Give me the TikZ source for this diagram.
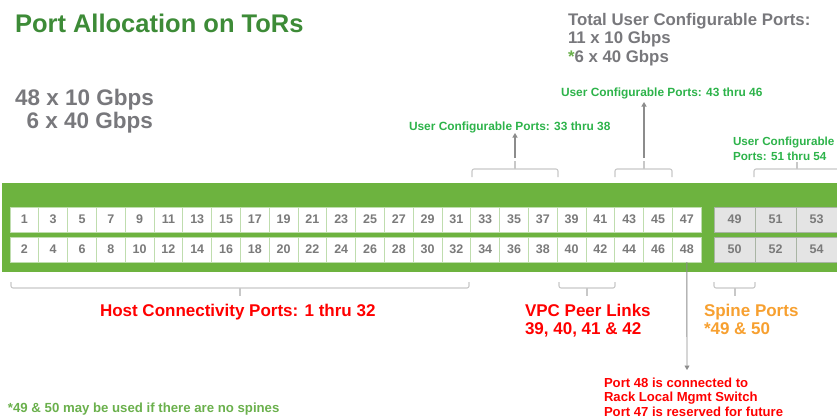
\documentclass[tikz,border=0pt]{standalone}
\usepackage{fontspec}
\setmainfont{Liberation Sans}
\usetikzlibrary{arrows.meta}
\definecolor{band}{HTML}{6DB33F}
\definecolor{titlegreen}{HTML}{3D8B37}
\definecolor{labgreen}{HTML}{2DB34A}
\definecolor{footgreen}{HTML}{6AB04C}
\definecolor{numgrey}{HTML}{7A7A7A}
\definecolor{biggrey}{HTML}{78787C}
\definecolor{cellline}{HTML}{BFDDAE}
\definecolor{greycell}{HTML}{E4E4E4}
\definecolor{greyline}{HTML}{A9B5A4}
\definecolor{brk}{HTML}{C8C8C8}
\definecolor{arrowgrey}{HTML}{8C8C8C}
\definecolor{redtxt}{HTML}{FF0000}
\definecolor{orangetxt}{HTML}{F7A030}
\begin{document}
\begin{tikzpicture}[x=1pt,y=-1pt,
  cell/.style={draw=cellline,fill=white,line width=0.8pt,minimum width=28.8pt,minimum height=25pt,
    inner sep=0pt,outer sep=0pt,font=\fontsize{12.5}{13}\selectfont\bfseries,text=numgrey},
  gcell/.style={cell,draw=greyline,fill=greycell,minimum width=41pt},
  txt/.style={inner sep=0pt,outer sep=0pt,anchor=base west},
  bracketline/.style={draw=brk,line width=1.1pt,rounded corners=2pt},
  uparrow/.style={draw=arrowgrey,line width=1.1pt,-{Triangle[width=5pt,length=4.5pt]}}
]
\useasboundingbox (0,0) rectangle (837,418);
% title and totals
\node[txt,font=\fontsize{25.5}{30}\selectfont\bfseries,text=titlegreen] (title) at (15,32) {Port Allocation on ToRs};
\node[txt,font=\fontsize{22.5}{26}\selectfont\bfseries,text=biggrey] (tot10) at (15,105) {48 x 10 Gbps};
\node[inner sep=0pt,outer sep=0pt,anchor=base east,font=\fontsize{22.5}{26}\selectfont\bfseries,text=biggrey] (tot40) at (153,128) {6 x 40 Gbps};
\node[txt,font=\fontsize{16.8}{19}\selectfont\bfseries,text=biggrey] (uc1) at (568,25) {Total User Configurable Ports:};
\node[txt,font=\fontsize{16.8}{19}\selectfont\bfseries,text=biggrey] (uc2) at (568,43.5) {11 x 10 Gbps};
\node[txt,font=\fontsize{16.8}{19}\selectfont\bfseries,text=biggrey] (uc3) at (568,62) {\textcolor{footgreen}{*}6 x 40 Gbps};
% band
\node[fill=band,minimum width=835pt,minimum height=89pt,anchor=north west,inner sep=0pt,outer sep=0pt] (band) at (2,183) {};
% ports
\foreach \i in {0,...,23} {
  \pgfmathtruncatemacro\t{2*\i+1}
  \pgfmathtruncatemacro\b{2*\i+2}
  \node[cell] (p\t) at ({24.4+28.8*\i},219.5) {\t};
  \node[cell] (p\b) at ({24.4+28.8*\i},249.5) {\b};
}
\foreach \t/\b/\xx in {49/50/734.5,51/52/775.5,53/54/816.5} {
  \node[gcell] (p\t) at (\xx,219.5) {\t};
  \node[gcell] (p\b) at (\xx,249.5) {\b};
}
% upper brackets
\coordinate (ua1) at (515,161);
\coordinate (ua2) at (644,161);
\draw[bracketline] (472,177) -- (472,169) -- (558,169) -- (558,177);
\draw[bracketline,rounded corners=0pt] (515,169) -- (ua1);
\draw[bracketline] (615,177) -- (615,169) -- (672,169) -- (672,177);
\draw[bracketline,rounded corners=0pt] (644,169) -- (ua2);
\draw[bracketline] (754,177) -- (754,169) -- (845,169);
\draw[bracketline,rounded corners=0pt] (797,169) -- (797,162);
\node[txt,font=\fontsize{11.9}{13}\selectfont\bfseries,text=labgreen] (l3338) at (409,130) {User Configurable Ports: 33 thru 38};
\node[txt,font=\fontsize{11.9}{13}\selectfont\bfseries,text=labgreen] (l4346) at (561,96.5) {User Configurable Ports: 43 thru 46};
\node[txt,font=\fontsize{11.7}{13}\selectfont\bfseries,text=labgreen] (l5154a) at (733,145.5) {User Configurable};
\node[txt,font=\fontsize{11.7}{13}\selectfont\bfseries,text=labgreen] (l5154b) at (733,160.5) {Ports: 51 thru 54};
\coordinate (ut1) at (515,133);
\coordinate (ut2) at (644,102);
\draw[uparrow] (515,158) -- (ut1);
\draw[uparrow] (644,158) -- (ut2);
% lower brackets
\draw[bracketline] (11,282) -- (11,288) -- (469,288) -- (469,282);
\draw[bracketline,rounded corners=0pt] (240,288) -- (240,296);
\draw[bracketline] (559,282) -- (559,288) -- (615,288) -- (615,282);
\draw[bracketline,rounded corners=0pt] (587,288) -- (587,296);
\draw[bracketline] (714,282) -- (714,288) -- (755,288) -- (755,282);
\draw[bracketline,rounded corners=0pt] (735,288) -- (735,296);
\node[txt,font=\fontsize{17}{20}\selectfont\bfseries,text=redtxt] (host) at (100,316) {Host Connectivity Ports: 1 thru 32};
\node[txt,font=\fontsize{17}{20}\selectfont\bfseries,text=redtxt] (vpc1) at (525,316) {VPC Peer Links};
\node[txt,font=\fontsize{17}{20}\selectfont\bfseries,text=redtxt] (vpc2) at (525,334) {39, 40, 41 \& 42};
\node[txt,font=\fontsize{17}{20}\selectfont\bfseries,text=orangetxt] (sp1) at (704,316) {Spine Ports};
\node[txt,font=\fontsize{17}{20}\selectfont\bfseries,text=orangetxt] (sp2) at (704,334) {*49 \& 50};
% port 48 note
\coordinate (a48) at (687,370);
\draw[draw=arrowgrey,line width=0.9pt,-{Triangle[width=5pt,length=4.5pt]}] (p48.south) -- (a48);
\node[txt,font=\fontsize{13.1}{15}\selectfont\bfseries,text=redtxt] (n1) at (604,387) {Port 48 is connected to};
\node[txt,font=\fontsize{13.1}{15}\selectfont\bfseries,text=redtxt] (n2) at (604,401.5) {Rack Local Mgmt Switch};
\node[txt,font=\fontsize{13.1}{15}\selectfont\bfseries,text=redtxt] (n3) at (604,416) {Port 47 is reserved for future};
\node[txt,font=\fontsize{13.2}{15}\selectfont\bfseries,text=footgreen] (foot) at (8,412) {*49 \& 50 may be used if there are no spines};
\end{tikzpicture}
\end{document}
